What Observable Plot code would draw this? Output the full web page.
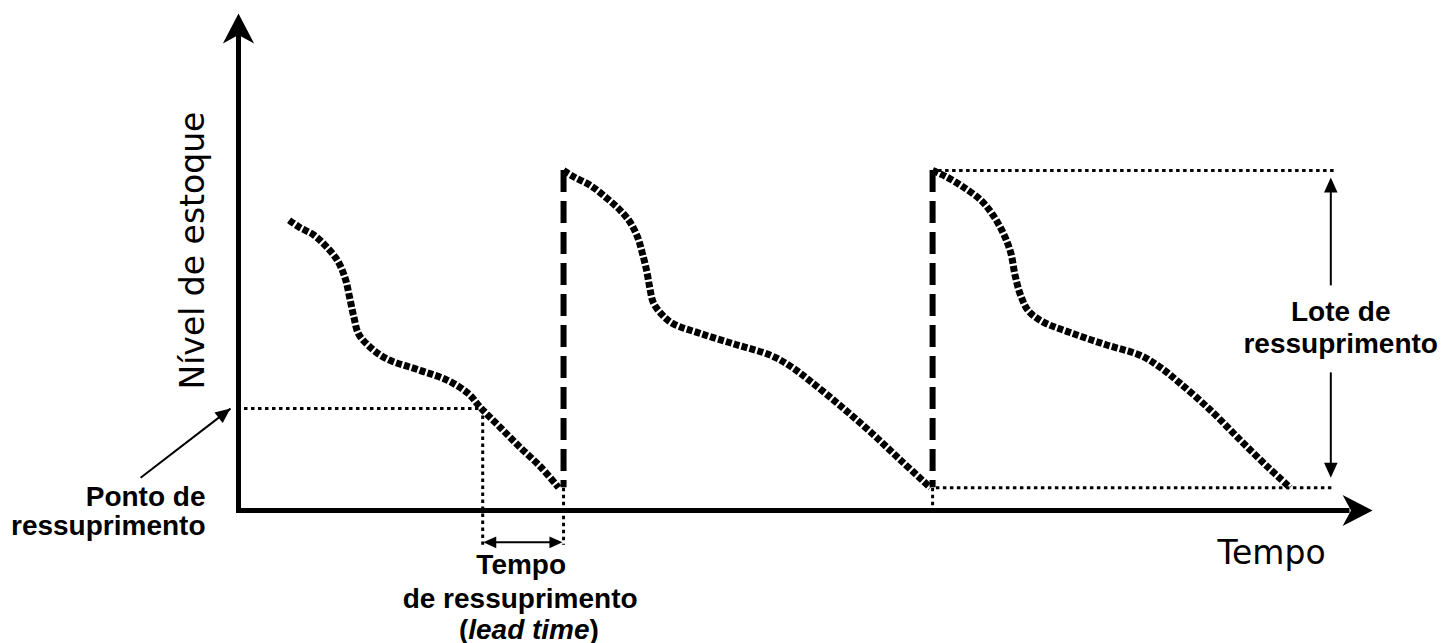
<!DOCTYPE html>
<html>
<head>
<meta charset="utf-8">
<script src="https://cdn.jsdelivr.net/npm/d3@7"></script>
<script src="https://cdn.jsdelivr.net/npm/@observablehq/plot@0.6"></script>
<style>
  html, body { margin: 0; padding: 0; background: #fff; }
  svg { display: block; }
</style>
</head>
<body>
<div id="chart"></div>
<script>
// ---- Data (time units 0..100, stock level 0..100) ----
const cycle1Time  = [4.6, 5.6, 6.8, 7.9, 9.0, 9.7, 10.1, 10.5, 10.9, 11.8, 13.4, 16.5, 19.0, 20.9, 22.0, 23.8, 25.6, 27.5, 29.1];
const cycle1Level = [58.4, 56.9, 55.5, 53.3, 50.3, 46.7, 42.9, 38.8, 35.6, 33.2, 30.6, 28.2, 26.2, 23.5, 20.7, 16.7, 12.7, 8.7, 4.6];

const cycle2Time  = [29.55, 30.6, 32.0, 33.5, 34.7, 35.6, 36.3, 36.7, 37.1, 37.4, 37.7, 38.5, 39.5, 42.0, 45.2, 48.4, 50.2, 52.0, 54.7, 57.5, 60.2, 62.9];
const cycle2Level = [68.4, 67.0, 65.4, 62.8, 60.4, 58.0, 54.9, 51.9, 48.3, 44.7, 41.9, 39.4, 37.6, 35.6, 33.4, 31.2, 29.0, 26.0, 21.1, 15.7, 10.1, 4.6];

const cycle3Time  = [63.1, 64.3, 65.8, 67.5, 68.6, 69.5, 70.2, 70.6, 71.1, 71.8, 73.1, 75.6, 78.8, 82.0, 83.8, 85.6, 88.4, 91.1, 93.6, 95.6];
const cycle3Level = [68.4, 67.2, 65.2, 62.4, 59.4, 55.9, 51.9, 47.3, 43.3, 40.2, 38.0, 35.8, 33.4, 31.2, 28.8, 25.6, 20.1, 14.1, 8.7, 4.6];

const deliveryTimes = [29.55, 63.1];   // replenishment arrivals
const minLevel = 4.6;                  // level just before arrival
const maxLevel = 68.4;                 // level after arrival
const reorderPoint = 20.5;             // ponto de ressuprimento
const reorderTime = 22.2;              // instant the order is placed
const lotEnd = 99.6;                   // right end of the lot guides
const lotArrowX = 99.3;

const axisLabels = ["Nível de estoque", "Tempo"];
const reorderLabel = ["Ponto de", "ressuprimento"];
const leadLabel = ["Tempo", "de ressuprimento", "(lead time)"];
const lotLabel = ["Lote de", "ressuprimento"];

// ---- Layout ----
const W = 1455, H = 643, mL = 238, mR = 117, mT = 13, mB = 133;
const kx = (W - mL - mR) / 100, ky = (H - mT - mB) / 100;
const angle = (x1, y1, x2, y2) => Math.atan2((x2 - x1) * kx, (y2 - y1) * ky) * 180 / Math.PI;

const zip = (t, v) => t.map((d, i) => ({t: d, v: v[i]}));

// arrowhead symbols (tip at origin, pointing up)
const stealth = {draw(ctx, size) { const r = Math.sqrt(size / Math.PI);
  ctx.moveTo(0, 0); ctx.lineTo(0.52 * r, r); ctx.lineTo(0, 0.72 * r); ctx.lineTo(-0.52 * r, r); ctx.closePath(); }};
const tri = {draw(ctx, size) { const r = Math.sqrt(size / Math.PI);
  ctx.moveTo(0, 0); ctx.lineTo(0.45 * r, r); ctx.lineTo(-0.45 * r, r); ctx.closePath(); }};

const bold = {fontFamily: "Liberation Sans, Arial, sans-serif", fontWeight: "bold", fontSize: 28, fill: "black", lineAnchor: "bottom"};
const plain = {fontFamily: "DejaVu Sans, Verdana, sans-serif", fontSize: 33, fill: "black"};

const dotted = {stroke: "black", strokeWidth: 3, strokeDasharray: "3.5,3.5"};
const curve = {x: "t", y: "v", curve: "catmull-rom", stroke: "black", strokeWidth: 7, strokeDasharray: "6,2.2", strokeLinecap: "butt", strokeLinejoin: "miter"};

const ponto = {x1: -8.9, y1: 6.6, x2: -0.73, y2: reorderPoint};

const chart = Plot.plot({
  width: W, height: H,
  marginLeft: mL, marginRight: mR, marginTop: mT, marginBottom: mB,
  x: {domain: [0, 100], axis: null},
  y: {domain: [0, 100], axis: null},
  style: {background: "white", overflow: "visible"},
  marks: [
    // dotted guides
    Plot.link([{x1: 0.5, y1: reorderPoint, x2: reorderTime, y2: reorderPoint}], {x1: "x1", y1: "y1", x2: "x2", y2: "y2", ...dotted}),
    Plot.link([{x1: reorderTime, y1: reorderPoint, x2: reorderTime, y2: -6.9}], {x1: "x1", y1: "y1", x2: "x2", y2: "y2", ...dotted}),
    Plot.link([{x1: deliveryTimes[0], y1: minLevel, x2: deliveryTimes[0], y2: -6.9}], {x1: "x1", y1: "y1", x2: "x2", y2: "y2", ...dotted}),
    Plot.link([{x1: deliveryTimes[1], y1: minLevel, x2: deliveryTimes[1], y2: -0.5}], {x1: "x1", y1: "y1", x2: "x2", y2: "y2", ...dotted}),
    Plot.link([{x1: deliveryTimes[1] + 0.5, y1: maxLevel, x2: lotEnd, y2: maxLevel}], {x1: "x1", y1: "y1", x2: "x2", y2: "y2", ...dotted}),
    Plot.link([{x1: deliveryTimes[1] + 0.3, y1: minLevel, x2: lotEnd, y2: minLevel}], {x1: "x1", y1: "y1", x2: "x2", y2: "y2", ...dotted}),

    // replenishment (dashed verticals)
    Plot.ruleX(deliveryTimes, {x: d => d, y1: maxLevel, y2: minLevel, stroke: "black", strokeWidth: 6, strokeDasharray: "22,9"}),

    // stock level curves
    Plot.line(zip(cycle1Time, cycle1Level), curve),
    Plot.line(zip(cycle2Time, cycle2Level), curve),
    Plot.line(zip(cycle3Time, cycle3Level), curve),

    // axes
    Plot.link([{x1: 0, y1: -0.5, x2: 0, y2: 96}], {x1: "x1", y1: "y1", x2: "x2", y2: "y2", stroke: "black", strokeWidth: 5}),
    Plot.link([{x1: -0.2, y1: 0, x2: 101, y2: 0}], {x1: "x1", y1: "y1", x2: "x2", y2: "y2", stroke: "black", strokeWidth: 5}),
    Plot.dot([{x: 0, y: 100, a: 0}, {x: 103.1, y: 0, a: 90}], {x: "x", y: "y", rotate: "a", symbol: stealth, r: 30, fill: "black", stroke: "none"}),

    // lot size arrow
    Plot.link([{x1: lotArrowX, y1: 45.3, x2: lotArrowX, y2: 64.5}, {x1: lotArrowX, y1: 27.8, x2: lotArrowX, y2: 9.2}], {x1: "x1", y1: "y1", x2: "x2", y2: "y2", stroke: "black", strokeWidth: 2}),
    Plot.dot([{x: lotArrowX, y: 67.0, a: 0}, {x: lotArrowX, y: 6.6, a: 180}], {x: "x", y: "y", rotate: "a", symbol: tri, r: 15, fill: "black", stroke: "none"}),

    // lead time arrow
    Plot.link([{x1: reorderTime + 1, y1: -6.4, x2: deliveryTimes[0] - 1, y2: -6.4}], {x1: "x1", y1: "y1", x2: "x2", y2: "y2", stroke: "black", strokeWidth: 2}),
    Plot.dot([{x: reorderTime + 0.05, y: -6.4, a: 270}, {x: deliveryTimes[0] - 0.1, y: -6.4, a: 90}], {x: "x", y: "y", rotate: "a", symbol: tri, r: 13, fill: "black", stroke: "none"}),

    // reorder point pointer
    Plot.link([ponto], {x1: "x1", y1: "y1", x2: "x2", y2: "y2", stroke: "black", strokeWidth: 2}),
    Plot.dot([{x: ponto.x2, y: ponto.y2, a: angle(ponto.x1, ponto.y1, ponto.x2, ponto.y2)}], {x: "x", y: "y", rotate: "a", symbol: tri, r: 15, fill: "black", stroke: "none"}),

    // axis labels
    Plot.text([axisLabels[0]], {x: -4.1, y: 52.3, text: d => d, rotate: -90, textAnchor: "middle", lineAnchor: "middle", ...plain}),
    Plot.text([axisLabels[1]], {x: 89.0, y: -10.7, text: d => d, textAnchor: "start", lineAnchor: "bottom", ...plain}),

    // annotations
    Plot.text(reorderLabel, {x: -3.0, y: (d, i) => [1.0, -5.0][i], text: d => d, textAnchor: "end", ...bold}),
    Plot.text(leadLabel, {x: (d, i) => [25.7, 25.6, 26.4][i], y: (d, i) => [-12.7, -19.7, -25.8][i], text: d => d, textAnchor: "middle", ...bold}),
    Plot.text(lotLabel, {x: 100.2, y: (d, i) => [38.2, 31.6][i], text: d => d, textAnchor: "middle", ...bold})
  ]
});

document.getElementById("chart").appendChild(chart);

// italic "lead time" inside the parentheses
chart.querySelectorAll("text").forEach(t => {
  if (t.textContent === "(lead time)") {
    t.textContent = "";
    const ns = "http://www.w3.org/2000/svg";
    const a = document.createElementNS(ns, "tspan"); a.textContent = "(";
    const b = document.createElementNS(ns, "tspan"); b.textContent = "lead time"; b.setAttribute("font-style", "italic");
    const c = document.createElementNS(ns, "tspan"); c.textContent = ")";
    t.append(a, b, c);
  }
});
</script>
</body>
</html>
